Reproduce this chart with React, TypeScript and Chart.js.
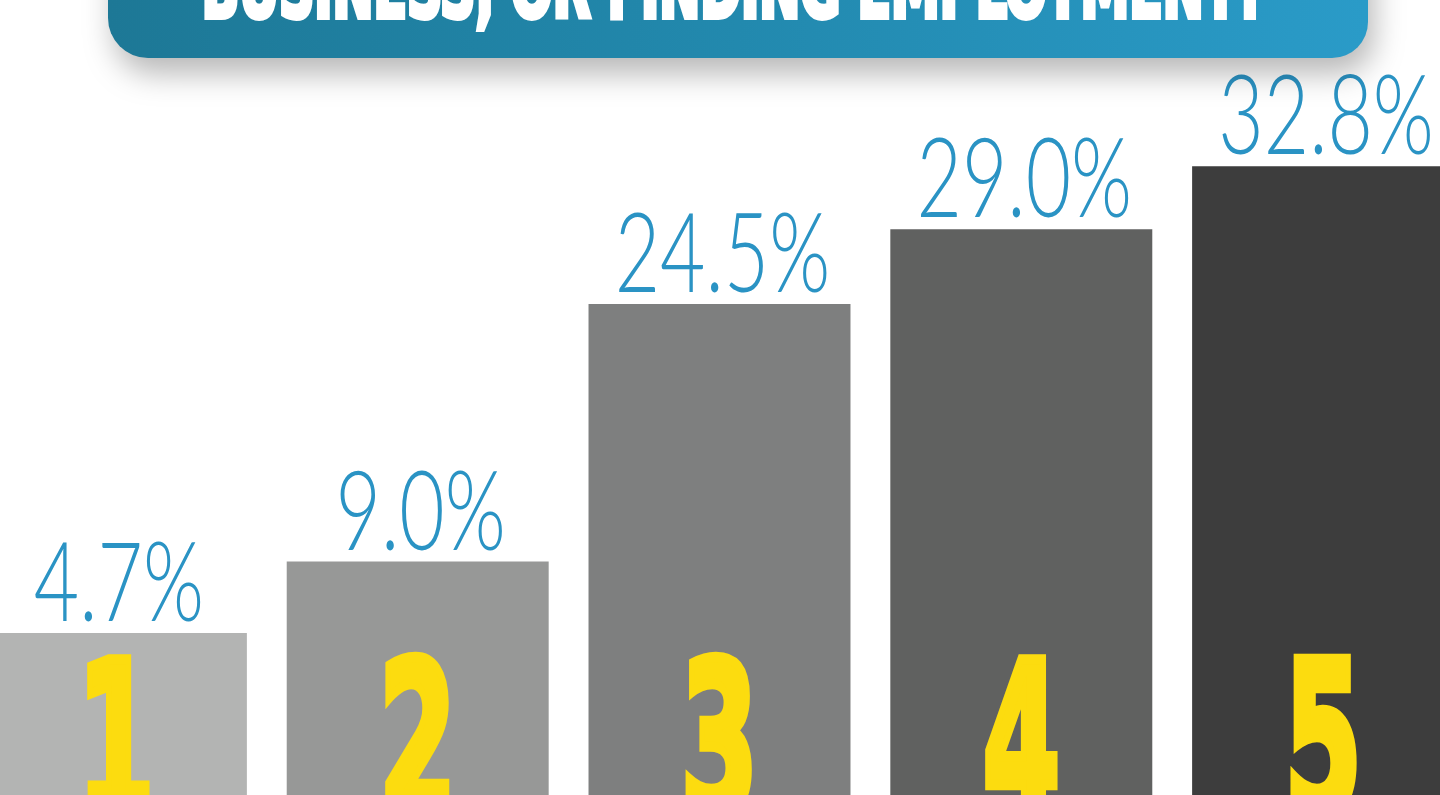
import React, { useEffect, useRef } from "react";
import { Chart, registerables } from "chart.js";

Chart.register(...registerables);

// ---- data ----
const categories = ["1", "2", "3", "4", "5"];
const values = [4.7, 9.0, 24.5, 29.0, 32.8];
const valueLabels = ["4.7%", "9.0%", "24.5%", "29.0%", "32.8%"];
const barColors = ["#b3b4b3", "#979897", "#7e7f7f", "#606160", "#3d3d3d"];
const titleText = "BUSINESS, OR FINDING EMPLOYMENT?";
const Y_MIN = -5.05;
const Y_MAX = 42.8;

// canvas is shifted left so category slots line up with the reference
const SHIFT = 35;
const CANVAS_W = 1509;
const CANVAS_H = 795;

const overlayPlugin = {
  id: "overlay",
  afterDatasetsDraw(chart: any) {
    const ctx: CanvasRenderingContext2D = chart.ctx;
    const meta = chart.getDatasetMeta(0);

    // value labels above bars
    ctx.save();
    ctx.font = '300 110px "Lato", "Open Sans", sans-serif';
    ctx.fillStyle = "#2a93c4";
    ctx.textAlign = "center";
    ctx.textBaseline = "alphabetic";
    const m = ctx.measureText("24.5%");
    const inkW = m.actualBoundingBoxLeft + m.actualBoundingBoxRight;
    const lsx = 208 / inkW;
    meta.data.forEach((el: any, i: number) => {
      const p = el.getProps(["x", "y"], true);
      ctx.save();
      ctx.translate(p.x + 3, p.y - 12);
      ctx.scale(lsx, 1);
      ctx.fillText(valueLabels[i], 0, 0);
      ctx.restore();
    });
    ctx.restore();

    // yellow rank numbers inside bars
    ctx.save();
    ctx.font = 'bold 120px "DejaVu Sans", sans-serif';
    ctx.fillStyle = "#fcdc0f";
    ctx.strokeStyle = "#fcdc0f";
    ctx.lineJoin = "miter";
    ctx.textAlign = "center";
    ctx.textBaseline = "alphabetic";
    const dm = ctx.measureText("3");
    const asc = dm.actualBoundingBoxAscent;
    const sy = 1.75;
    const sx = 0.92;
    meta.data.forEach((el: any, i: number) => {
      const p = el.getProps(["x", "y"], true);
      ctx.save();
      ctx.translate(p.x, 653 + asc * sy + 4);
      ctx.scale(sx, sy);
      ctx.lineWidth = 6;
      ctx.fillText(categories[i], 0, 0);
      ctx.strokeText(categories[i], 0, 0);
      ctx.restore();
    });
    ctx.restore();
  },
  afterDraw(chart: any) {
    const ctx: CanvasRenderingContext2D = chart.ctx;
    // banner
    const L = 108 + SHIFT;
    const R = 1368 + SHIFT;
    const B = 58;
    ctx.save();
    ctx.shadowColor = "rgba(0,0,0,0.28)";
    ctx.shadowBlur = 30;
    ctx.shadowOffsetX = 6;
    ctx.shadowOffsetY = 16;
    const g = ctx.createLinearGradient(L, 0, R, 0);
    g.addColorStop(0, "#1d7896");
    g.addColorStop(0.5, "#2289ae");
    g.addColorStop(1, "#2a9bc8");
    ctx.fillStyle = g;
    ctx.beginPath();
    (ctx as any).roundRect(L, -80, R - L, B + 80, [0, 0, 36, 40]);
    ctx.fill();
    ctx.restore();

    // banner text (only its lower part is visible)
    ctx.save();
    ctx.font = 'bold 82px "DejaVu Sans", sans-serif';
    ctx.fillStyle = "#ffffff";
    ctx.strokeStyle = "#ffffff";
    ctx.textAlign = "left";
    ctx.textBaseline = "alphabetic";
    const tm = ctx.measureText(titleText);
    const tw = tm.actualBoundingBoxLeft + tm.actualBoundingBoxRight;
    const tsx = 1057 / tw;
    ctx.translate(206 + SHIFT + tm.actualBoundingBoxLeft * tsx, 17);
    ctx.scale(tsx, 1);
    ctx.lineWidth = 6;
    ctx.fillText(titleText, 0, 0);
    ctx.strokeText(titleText, 0, 0);
    ctx.restore();
  },
};

export default function App() {
  const ref = useRef<HTMLCanvasElement | null>(null);

  useEffect(() => {
    if (!ref.current) return;
    const chart = new Chart(ref.current, {
      type: "bar",
      data: {
        labels: categories,
        datasets: [
          {
            data: values,
            backgroundColor: barColors,
            borderWidth: 0,
            base: Y_MIN,
            barPercentage: 0.868,
            categoryPercentage: 1,
          } as any,
        ],
      },
      options: {
        responsive: false,
        maintainAspectRatio: false,
        animation: false,
        layout: { padding: 0 },
        plugins: {
          legend: { display: false },
          tooltip: { enabled: false },
        },
        scales: {
          x: { display: false, offset: true },
          y: { display: false, min: Y_MIN, max: Y_MAX },
        },
      },
      plugins: [overlayPlugin],
    });
    return () => chart.destroy();
  }, []);

  return (
    <div
      style={{
        position: "fixed",
        left: 0,
        top: 0,
        width: 1440,
        height: 795,
        overflow: "hidden",
        background: "#ffffff",
      }}
    >
      <canvas
        ref={ref}
        width={CANVAS_W}
        height={CANVAS_H}
        style={{
          position: "absolute",
          left: -SHIFT,
          top: 0,
          width: CANVAS_W,
          height: CANVAS_H,
        }}
      />
    </div>
  );
}
